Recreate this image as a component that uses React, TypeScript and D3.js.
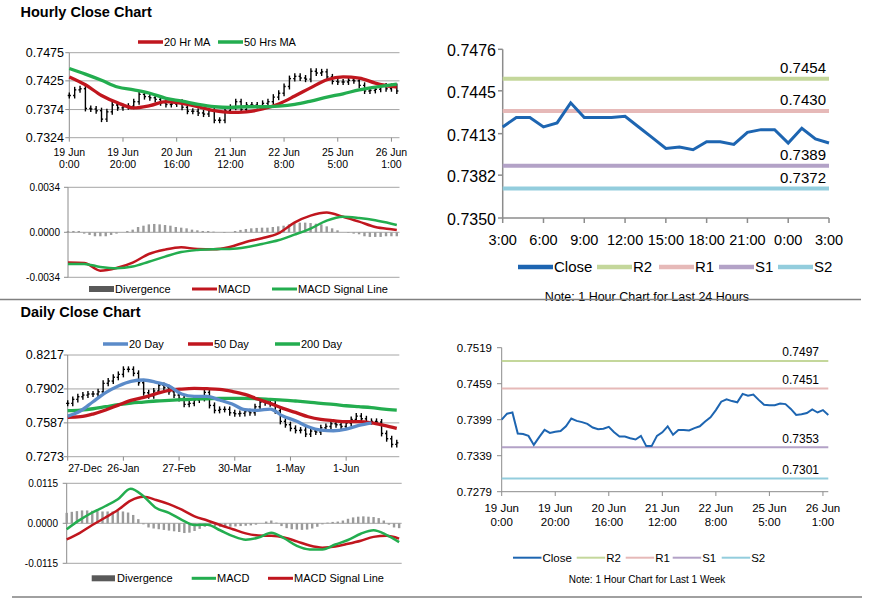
import React from 'react';
import * as d3 from 'd3';

const FONT = '"Liberation Sans", Arial, Helvetica, sans-serif';

// ---------- hourly chart, 19 Jun 0:00 .. 26 Jun 2:00 (one close every 2 hours)
const hourlyStep = 2;
const hourlyClose = [
  0.7399, 0.7409, 0.7411, 0.7376, 0.7375, 0.7372, 0.7357, 0.7370, 0.7382, 0.7377,
  0.7379, 0.7380, 0.7388, 0.7401, 0.7397, 0.7395, 0.7392, 0.7386, 0.7383, 0.7384,
  0.7387, 0.7378, 0.7371, 0.7371, 0.7368, 0.7366, 0.7372, 0.7355, 0.7355, 0.7372,
  0.7378, 0.7388, 0.7374, 0.7382, 0.7382, 0.7381, 0.7385, 0.7388, 0.7396, 0.7403,
  0.7415, 0.7429, 0.7433, 0.7430, 0.7428, 0.7442, 0.7439, 0.7441, 0.7432, 0.7424,
  0.7423, 0.7423, 0.7426, 0.7425, 0.7417, 0.7407, 0.7408, 0.7410, 0.7416, 0.7411,
  0.7415, 0.7407,
];
const hourlyTickEvery = 20;
const hourlyTickLabels = [
  ['19 Jun', '0:00'], ['19 Jun', '20:00'], ['20 Jun', '16:00'], ['21 Jun', '12:00'],
  ['22 Jun', '8:00'], ['25 Jun', '5:00'], ['26 Jun', '1:00'],
];
const hourlyPriceTicks = ['0.7324', '0.7374', '0.7425', '0.7475'];
const hourlyMacdTicks = ['-0.0034', '0.0000', '0.0034'];

const maHours = [0, 6, 12, 18, 24, 30, 36, 42, 48, 54, 60, 66, 72, 78, 84, 90, 96, 102, 108, 114, 120, 122];
const ma20Hr = [
  0.7432, 0.7418, 0.7399, 0.7386, 0.7377, 0.7381, 0.7388, 0.7385, 0.7379, 0.7372, 0.7369,
  0.7370, 0.7375, 0.7384, 0.7398, 0.7413, 0.7427, 0.7432, 0.7430, 0.7421, 0.7415, 0.7414,
];
const ma50Hr = [
  0.7447, 0.7437, 0.7426, 0.7414, 0.7409, 0.7403, 0.7394, 0.7389, 0.7383, 0.7379, 0.7378,
  0.7379, 0.7379, 0.7380, 0.7383, 0.7389, 0.7396, 0.7402, 0.7409, 0.7414, 0.7418, 0.7419,
];
const macdHr = [
  -0.00229, -0.00232, -0.0029, -0.0027, -0.00229, -0.00164, -0.00131, -0.00113, -0.00126, -0.00128, -0.00111,
  -0.00073, -0.00045, -0.00008, 0.00073, 0.00126, 0.00149, 0.00118, 0.00081, 0.0004, 0.00023, 0.00018,
];
const signalHr = [
  -0.00239, -0.00239, -0.00262, -0.00272, -0.00259, -0.00222, -0.00184, -0.00149, -0.00134, -0.00128, -0.00126,
  -0.00113, -0.00088, -0.0006, -0.00018, 0.00028, 0.00088, 0.00118, 0.00108, 0.00091, 0.00065, 0.00055,
];
const divergenceHr = [
  0.0001, 0.0001, 0.0001, -0.0001, -0.0002, -0.0003, -0.0003, -0.0003, -0.0002, -0.0001,
  0.0, 0.0001, 0.0002, 0.0004, 0.0005, 0.0006, 0.00063, 0.0006, 0.00055, 0.0005,
  0.0004, 0.00035, 0.0003, 0.0002, 0.00015, 0.0001, 0.0001, 0.00005, 0.0, -0.00005,
  0.0, 0.0001, 0.00018, 0.00025, 0.0003, 0.00033, 0.00035, 0.00035, 0.0004, 0.00045,
  0.0005, 0.0006, 0.0007, 0.00073, 0.00073, 0.0007, 0.00065, 0.0006, 0.00045, 0.0003,
  0.00015, 0.0, -0.00005, -0.0001, -0.00015, -0.0003, -0.00035, -0.00035, -0.00035, -0.0003,
  -0.0003, -0.0003,
];

// ---------- last 24 hours
const close24 = [
  0.7418, 0.7425, 0.7425, 0.7418, 0.7421, 0.7436, 0.7425, 0.7425, 0.7425, 0.7426, 0.7418, 0.7410, 0.7402,
  0.7403, 0.7401, 0.7407, 0.7407, 0.7405, 0.7414, 0.7416, 0.7416, 0.7406, 0.7417, 0.7409, 0.7406,
];
const hours24Labels = ['3:00', '6:00', '9:00', '12:00', '15:00', '18:00', '21:00', '0:00', '3:00'];
const ticks24 = ['0.7350', '0.7382', '0.7413', '0.7445', '0.7476'];
const levelNames = ['R2', 'R1', 'S1', 'S2'];
const levels24 = [0.7454, 0.743, 0.7389, 0.7372];
const levelsWeek = [0.7497, 0.7451, 0.7353, 0.7301];
const ticksWeek = ['0.7279', '0.7339', '0.7399', '0.7459', '0.7519'];

// ---------- daily chart, 27 Dec .. end of June (one close every 2 trading days)
const dailyStep = 2;
const dailyClose = [
  0.7768, 0.7805, 0.7830, 0.7845, 0.7855, 0.7855, 0.7876, 0.7954, 0.7975, 0.8010,
  0.8037, 0.8084, 0.8084, 0.8047, 0.7960, 0.7867, 0.7839, 0.7883, 0.7935, 0.7914,
  0.7876, 0.7845, 0.7814, 0.7759, 0.7768, 0.7799, 0.7814, 0.7870, 0.7749, 0.7703,
  0.7712, 0.7712, 0.7681, 0.7672, 0.7675, 0.7691, 0.7681, 0.7737, 0.7780, 0.7774,
  0.7765, 0.7700, 0.7601, 0.7570, 0.7536, 0.7517, 0.7520, 0.7483, 0.7511, 0.7502,
  0.7542, 0.7554, 0.7579, 0.7570, 0.7554, 0.7585, 0.7619, 0.7650, 0.7625, 0.7598,
  0.7601, 0.7595, 0.7489, 0.7440, 0.7387, 0.7402,
];
const dailyTickEvery = 22;
const dailyTickLabels = ['27-Dec', '26-Jan', '27-Feb', '30-Mar', '1-May', '1-Jun'];
const dailyPriceTicks = ['0.7273', '0.7587', '0.7902', '0.8217'];
const dailyMacdTicks = ['-0.0115', '0.0000', '0.0115'];

const maDays = d3.range(0, 131, 5);
const ma20Day = [
  0.7650, 0.7697, 0.7783, 0.7867, 0.7929, 0.7972, 0.7985, 0.7963, 0.7929, 0.7855, 0.7833, 0.7833, 0.7799,
  0.7762, 0.7709, 0.7703, 0.7715, 0.7650, 0.7607, 0.7551, 0.7520, 0.7514, 0.7529, 0.7564, 0.7588,
];
const ma50Day = [
  0.7638, 0.7644, 0.7669, 0.7706, 0.7752, 0.7796, 0.7824, 0.7858, 0.7889, 0.7901, 0.7907, 0.7904, 0.7898, 0.7879,
  0.7852, 0.7808, 0.7768, 0.7722, 0.7684, 0.7644, 0.7619, 0.7607, 0.7598, 0.7598, 0.7588, 0.7564, 0.7536,
];
const ma200Day = [
  0.7700, 0.7706, 0.7718, 0.7737, 0.7756, 0.7771, 0.7780, 0.7790, 0.7796, 0.7802, 0.7808, 0.7811, 0.7814, 0.7814,
  0.7814, 0.7811, 0.7805, 0.7799, 0.7790, 0.7780, 0.7768, 0.7759, 0.7746, 0.7737, 0.7728, 0.7715, 0.7706,
];
const macdDay = [
  -0.0017, 0.0009, 0.0031, 0.0049, 0.0069, 0.0099, 0.0078, 0.0044, 0.0030, 0.0010, -0.0005, -0.0004, -0.0020, -0.0037,
  -0.0047, -0.0041, -0.0027, -0.0043, -0.0065, -0.0075, -0.0075, -0.0061, -0.0048, -0.0030, -0.0020, -0.0033, -0.0054,
];
const signalDay = [
  -0.0046, -0.0028, -0.0005, 0.0016, 0.0038, 0.0065, 0.0076, 0.0067, 0.0055, 0.0039, 0.0020, 0.0008, -0.0005, -0.0017,
  -0.0029, -0.0035, -0.0036, -0.0041, -0.0052, -0.0064, -0.0070, -0.0067, -0.0059, -0.0050, -0.0039, -0.0036, -0.0044,
];
const divergenceDay = [
  0.0030, 0.0033, 0.0035, 0.0037, 0.0037, 0.0036, 0.0035, 0.0034, 0.0034, 0.0034,
  0.0035, 0.0034, 0.0031, 0.0024, 0.0012, -0.0003, -0.0012, -0.0015, -0.0017, -0.0019,
  -0.0021, -0.0023, -0.0025, -0.0028, -0.0027, -0.0022, -0.0016, -0.0010, -0.0008, -0.0009,
  -0.0010, -0.0011, -0.0010, -0.0009, -0.0008, -0.0007, -0.0006, -0.0004, 0.0000, 0.0005,
  0.0008, 0.0002, -0.0008, -0.0014, -0.0017, -0.0018, -0.0019, -0.0018, -0.0015, -0.0010,
  -0.0003, 0.0002, 0.0004, 0.0005, 0.0008, 0.0013, 0.0017, 0.0019, 0.0020, 0.0019,
  0.0018, 0.0015, 0.0008, -0.0004, -0.0012, -0.0014,
];

// ---------- styles
const GRID = '#a6a6a6';
const AXIS = '#8c8c8c';
const RED = '#c0161e';
const GREEN = '#23ad4f';
const BLUE = '#5b8bc9';
const CLOSE = '#1d65b1';
const DIV = '#9a9a9a';
const LEVEL_COLOR: Record<string, string> = { R2: '#c4d79b', R1: '#e6b9b8', S1: '#b3a2c7', S2: '#93cddd' };

type TxtProps = {
  x: number; y: number; size?: number; anchor?: 'start' | 'middle' | 'end';
  bold?: boolean; dy?: string; children: React.ReactNode;
};
const Txt = ({ x, y, size = 11, anchor = 'start', bold, dy, children }: TxtProps) => (
  <text x={x} y={y} dy={dy} fontSize={size} textAnchor={anchor} fontWeight={bold ? 'bold' : 'normal'}
    fontFamily={FONT} fill="#000">{children}</text>
);

const LegendLine = ({ x1, x2, y, color, w, label, size }:
  { x1: number; x2: number; y: number; color: string; w: number; label: string; size: number }) => (
  <g>
    <line x1={x1} x2={x2} y1={y} y2={y} stroke={color} strokeWidth={w} />
    <Txt x={x2 + 1} y={y} dy="0.35em" size={size}>{label}</Txt>
  </g>
);

// price bars: each one spans from the previous close to its own close
function Bars({ values, x, y }: { values: number[]; x: (i: number) => number; y: d3.ScaleLinear<number, number> }) {
  return (
    <g stroke="#000" strokeWidth={1.4}>
      {values.map((c, i) => {
        const prev = i ? values[i - 1] : c;
        const bx = x(i);
        return (
          <g key={i}>
            <line x1={bx} x2={bx} y1={y(Math.max(prev, c)) - 3} y2={y(Math.min(prev, c)) + 3} />
            <line x1={bx - 1.6} x2={bx} y1={y(prev)} y2={y(prev)} />
            <line x1={bx} x2={bx + 1.6} y1={y(c)} y2={y(c)} />
          </g>
        );
      })}
    </g>
  );
}

function GridY({ ticks, x0, x1, y, labelSize, labelX }:
  { ticks: string[]; x0: number; x1: number; y: d3.ScaleLinear<number, number>; labelSize: number; labelX: number }) {
  const [b, t] = y.range();
  return (
    <g>
      {ticks.map((tk) => (
        <g key={tk}>
          <line x1={x0} x2={x1} y1={y(+tk)} y2={y(+tk)} stroke={GRID} />
          <line x1={x0 - 4} x2={x0} y1={y(+tk)} y2={y(+tk)} stroke={AXIS} />
          <Txt x={labelX} y={y(+tk)} dy="0.35em" anchor="end" size={labelSize}>{tk}</Txt>
        </g>
      ))}
      <line x1={x0} x2={x0} y1={t} y2={b} stroke={AXIS} />
    </g>
  );
}

function HourlyPanel() {
  const x = d3.scaleLinear().domain([0, 123]).range([69.3, 399.5]);
  const y = d3.scaleLinear().domain([0.7324, 0.7475]).range([137.7, 52.7]);
  const ma = d3.line<number>().x((_, i) => x(maHours[i])).y((d) => y(d)).curve(d3.curveMonotoneX);

  const mx = d3.scaleLinear().domain([0, 123]).range([68, 399.5]);
  const my = d3.scaleLinear().domain([-0.0034, 0.0034]).range([277.3, 187.3]);
  const ml = d3.line<number>().x((_, i) => mx(maHours[i])).y((d) => my(d)).curve(d3.curveMonotoneX);

  return (
    <g>
      <Txt x={20.5} y={17} size={14.5} bold>Hourly Close Chart</Txt>
      <LegendLine x1={138} x2={163} y={42} color={RED} w={3.5} label="20 Hr MA" size={11} />
      <LegendLine x1={218} x2={243} y={42} color={GREEN} w={3.5} label="50 Hrs MA" size={11} />
      <GridY ticks={hourlyPriceTicks} x0={69.3} x1={399.5} y={y} labelSize={12.5} labelX={64} />
      {hourlyTickLabels.map(([d, t], i) => {
        const hx = x(i * hourlyTickEvery);
        return (
          <g key={i}>
            <line x1={hx} x2={hx} y1={137.7} y2={141.7} stroke={AXIS} />
            <Txt x={hx} y={156} anchor="middle" size={10.5}>{d}</Txt>
            <Txt x={hx} y={168} anchor="middle" size={10.5}>{t}</Txt>
          </g>
        );
      })}
      <Bars values={hourlyClose} x={(i) => x(i * hourlyStep)} y={y} />
      <path d={ma(ma20Hr) || ''} fill="none" stroke={RED} strokeWidth={3.3} />
      <path d={ma(ma50Hr) || ''} fill="none" stroke={GREEN} strokeWidth={3.3} />

      <GridY ticks={hourlyMacdTicks} x0={68} x1={399.5} y={my} labelSize={10} labelX={60} />
      {divergenceHr.map((v, i) => (
        <rect key={i} x={mx(i * hourlyStep) - 1.2} width={2.4} y={Math.min(my(v), my(0))}
          height={Math.abs(my(v) - my(0))} fill={DIV} />
      ))}
      <path d={ml(macdHr) || ''} fill="none" stroke={RED} strokeWidth={2.5} />
      <path d={ml(signalHr) || ''} fill="none" stroke={GREEN} strokeWidth={2.5} />
      <rect x={89} y={286} width={25} height={6} fill="#595959" />
      <Txt x={115} y={289} dy="0.35em" size={11}>Divergence</Txt>
      <LegendLine x1={192} x2={217} y={289} color={RED} w={3} label="MACD" size={11} />
      <LegendLine x1={272} x2={297} y={289} color={GREEN} w={3} label="MACD Signal Line" size={11} />
    </g>
  );
}

function Last24Panel() {
  const x = d3.scaleLinear().domain([0, 24]).range([502.7, 829]);
  const y = d3.scaleLinear().domain([0.735, 0.7476]).range([218, 49.3]);
  const line = d3.line<number>().x((_, i) => x(i)).y((d) => y(d));
  const legendX = [518, 597, 659, 719, 778];
  return (
    <g>
      {ticks24.map((tk) => (
        <g key={tk}>
          <line x1={498} x2={502.7} y1={y(+tk)} y2={y(+tk)} stroke={AXIS} strokeWidth={1.5} />
          <Txt x={496} y={y(+tk) + 1.5} dy="0.35em" anchor="end" size={16}>{tk}</Txt>
        </g>
      ))}
      {hours24Labels.map((l, i) => (
        <g key={i}>
          <line x1={x(i * 3)} x2={x(i * 3)} y1={218} y2={223} stroke={AXIS} strokeWidth={1.5} />
          <Txt x={x(i * 3)} y={245} anchor="middle" size={14.5}>{l}</Txt>
        </g>
      ))}
      <line x1={502.7} x2={502.7} y1={49.3} y2={218} stroke={AXIS} strokeWidth={1.5} />
      <line x1={502.7} x2={829} y1={218} y2={218} stroke={AXIS} strokeWidth={1.5} />
      {levels24.map((v, i) => (
        <g key={levelNames[i]}>
          <line x1={502.7} x2={829} y1={y(v)} y2={y(v)} stroke={LEVEL_COLOR[levelNames[i]]} strokeWidth={4} />
          <Txt x={826} y={y(v) - 5.5} anchor="end" size={15}>{v.toFixed(4)}</Txt>
        </g>
      ))}
      <path d={line(close24) || ''} fill="none" stroke={CLOSE} strokeWidth={3} />
      <LegendLine x1={legendX[0]} x2={legendX[0] + 35} y={267} color={CLOSE} w={4.5} label="Close" size={15} />
      {levelNames.map((n, i) => (
        <LegendLine key={n} x1={legendX[i + 1]} x2={legendX[i + 1] + 35} y={267} color={LEVEL_COLOR[n]} w={4.5} label={n} size={15} />
      ))}
      <Txt x={647} y={300.5} anchor="middle" size={12.5}>Note: 1 Hour Chart for Last 24 Hours</Txt>
    </g>
  );
}

function DailyPanel() {
  const x = d3.scaleLinear().domain([0, 131]).range([67.7, 399.3]);
  const y = d3.scaleLinear().domain([0.7273, 0.8217]).range([456.7, 355]);
  const ma = d3.line<number>().x((_, i) => x(maDays[i])).y((d) => y(d)).curve(d3.curveMonotoneX);

  const mx = d3.scaleLinear().domain([0, 131]).range([66.7, 401.7]);
  const my = d3.scaleLinear().domain([-0.0115, 0.0115]).range([563.3, 483.3]);
  const ml = d3.line<number>().x((_, i) => mx(maDays[i])).y((d) => my(d)).curve(d3.curveMonotoneX);

  return (
    <g>
      <Txt x={20.5} y={316.5} size={14.5} bold>Daily Close Chart</Txt>
      <LegendLine x1={103} x2={128} y={344} color={BLUE} w={3.5} label="20 Day" size={11} />
      <LegendLine x1={188} x2={213} y={344} color={RED} w={3.5} label="50 Day" size={11} />
      <LegendLine x1={275} x2={300} y={344} color={GREEN} w={3.5} label="200 Day" size={11} />
      <GridY ticks={dailyPriceTicks} x0={67.7} x1={399.3} y={y} labelSize={12.5} labelX={64} />
      {dailyTickLabels.map((l, i) => {
        const dx = x(i * dailyTickEvery);
        return (
          <g key={l}>
            <line x1={dx} x2={dx} y1={456.7} y2={460.7} stroke={AXIS} />
            <Txt x={i === 0 ? dx + 0.5 : dx} y={472} anchor={i === 0 ? 'start' : 'middle'} size={10.5}>{l}</Txt>
          </g>
        );
      })}
      <Bars values={dailyClose} x={(i) => x(i * dailyStep)} y={y} />
      <path d={ma(ma200Day) || ''} fill="none" stroke={GREEN} strokeWidth={3.3} />
      <path d={ma(ma50Day) || ''} fill="none" stroke={RED} strokeWidth={3.3} />
      <path d={ma(ma20Day) || ''} fill="none" stroke={BLUE} strokeWidth={3.3} />

      <GridY ticks={dailyMacdTicks} x0={66.7} x1={401.7} y={my} labelSize={10} labelX={58} />
      {divergenceDay.map((v, i) => (
        <rect key={i} x={mx(i * dailyStep) - 1.2} width={2.4} y={Math.min(my(v), my(0))}
          height={Math.abs(my(v) - my(0))} fill={DIV} />
      ))}
      <path d={ml(signalDay) || ''} fill="none" stroke={RED} strokeWidth={2.5} />
      <path d={ml(macdDay) || ''} fill="none" stroke={GREEN} strokeWidth={2.5} />
      <rect x={91.7} y={575.3} width={23.3} height={6} fill="#595959" />
      <Txt x={117} y={578.3} dy="0.35em" size={11}>Divergence</Txt>
      <LegendLine x1={191.7} x2={216} y={578.3} color={GREEN} w={3} label="MACD" size={11} />
      <LegendLine x1={268} x2={293} y={578.3} color={RED} w={3} label="MACD Signal Line" size={11} />
    </g>
  );
}

function WeekPanel() {
  const x = d3.scaleLinear().domain([0, 122]).range([501.7, 828.3]);
  const y = d3.scaleLinear().domain([0.7279, 0.7519]).range([491.7, 347.7]);
  const line = d3.line<number>().x((_, i) => x(i * hourlyStep)).y((d) => y(d));
  const legendX = [513, 576.7, 625.7, 672.7, 721.7];
  return (
    <g>
      {ticksWeek.map((tk) => (
        <g key={tk}>
          <line x1={497} x2={501.7} y1={y(+tk)} y2={y(+tk)} stroke={AXIS} />
          <Txt x={492} y={y(+tk)} dy="0.35em" anchor="end" size={11.5}>{tk}</Txt>
        </g>
      ))}
      {hourlyTickLabels.map(([d, t], i) => {
        const hx = x(i * hourlyTickEvery);
        return (
          <g key={i}>
            <line x1={hx} x2={hx} y1={491.7} y2={496} stroke={AXIS} />
            <Txt x={hx} y={511.5} anchor="middle" size={11.5}>{d}</Txt>
            <Txt x={hx} y={525.5} anchor="middle" size={11.5}>{t}</Txt>
          </g>
        );
      })}
      <line x1={501.7} x2={501.7} y1={347.7} y2={491.7} stroke={AXIS} />
      <line x1={501.7} x2={828.3} y1={491.7} y2={491.7} stroke={AXIS} />
      {levelsWeek.map((v, i) => (
        <g key={levelNames[i]}>
          <line x1={501.7} x2={828.3} y1={y(v)} y2={y(v)} stroke={LEVEL_COLOR[levelNames[i]]} strokeWidth={2} />
          <Txt x={819} y={y(v) - 4.5} anchor="end" size={12}>{v.toFixed(4)}</Txt>
        </g>
      ))}
      <path d={line(hourlyClose) || ''} fill="none" stroke={CLOSE} strokeWidth={2} />
      <LegendLine x1={legendX[0]} x2={legendX[0] + 28.5} y={557.7} color={CLOSE} w={2} label="Close" size={11.5} />
      {levelNames.map((n, i) => (
        <LegendLine key={n} x1={legendX[i + 1]} x2={legendX[i + 1] + 28.5} y={557.7} color={LEVEL_COLOR[n]} w={2} label={n} size={11.5} />
      ))}
      <Txt x={647} y={582.5} anchor="middle" size={10}>Note: 1 Hour Chart for Last 1 Week</Txt>
    </g>
  );
}

export default function App() {
  return (
    <svg width={873} height={601} style={{ position: 'absolute', left: 0, top: 0, background: '#fff' }}>
      <rect width={873} height={601} fill="#fff" />
      <HourlyPanel />
      <Last24Panel />
      <DailyPanel />
      <WeekPanel />
      <line x1={0} x2={861} y1={299.5} y2={299.5} stroke="#808080" strokeWidth={1.3} />
      <line x1={12} x2={862} y1={597} y2={597} stroke="#808080" strokeWidth={1.3} />
    </svg>
  );
}
